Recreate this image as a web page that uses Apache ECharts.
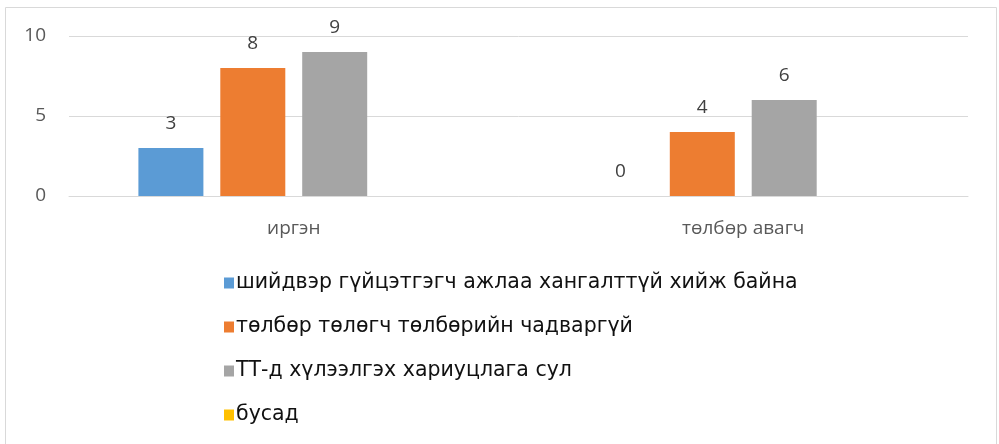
<!DOCTYPE html>
<html><head><meta charset="utf-8">
<script src="https://cdn.jsdelivr.net/npm/echarts@6/dist/echarts.min.js"></script>
<style>html,body{margin:0;padding:0;background:#fff}#c{width:999px;height:444px}</style>
</head><body><div id="c"></div>
<script>
const categories = ['иргэн', 'төлбөр авагч'];
const seriesNames = ['шийдвэр гүйцэтгэгч ажлаа хангалттүй хийж байна', 'төлбөр төлөгч төлбөрийн чадваргүй', 'ТТ-д хүлээлгэх хариуцлага сул', 'бусад'];
const s1 = [3, 0];
const s2 = [8, 4];
const s3 = [9, 6];
const s4 = [null, null];
const colors = ['#5b9bd5', '#ed7d31', '#a5a5a5', '#ffc000'];
const yTicks = [0, 5, 10];

const chart = echarts.init(document.getElementById('c'), null, {renderer: 'canvas'});
const data = [s1, s2, s3, s4];
chart.setOption({
  animation: false,
  color: colors,
  graphic: [{type: 'rect', shape: {x: 5.5, y: 7.5, width: 991, height: 445}, style: {fill: 'none', stroke: '#d9d9d9', lineWidth: 1}}],
  grid: {left: 69, right: 31, top: 36, bottom: 248, containLabel: false},
  xAxis: {
    type: 'category', data: categories,
    axisLine: {lineStyle: {color: '#d9d9d9', width: 1}},
    axisTick: {show: false},
    axisLabel: {color: '#595959', fontSize: 19, fontFamily: 'Open Sans', margin: 23}
  },
  yAxis: {
    type: 'value', min: yTicks[0], max: yTicks[yTicks.length - 1], interval: 5,
    axisLine: {show: false}, axisTick: {show: false},
    splitLine: {lineStyle: {color: '#d9d9d9', width: 1}},
    axisLabel: {color: '#595959', fontSize: 19, fontFamily: 'Open Sans', margin: 23}
  },
  legend: {
    orient: 'vertical', left: 224, top: 271, padding: 0,
    itemWidth: 10, itemHeight: 11, itemGap: 20,
    icon: 'rect',
    textStyle: {color: '#111111', fontSize: 20.5, fontFamily: 'DejaVu Sans', padding: [0, 0, 0, -3], lineHeight: 24},
    data: seriesNames
  },
  series: seriesNames.map((n, i) => ({
    name: n, type: 'bar', data: data[i],
    barWidth: 65, barGap: '26%',
    label: {show: true, position: 'top', color: '#404040', fontSize: 19, fontFamily: 'Open Sans', distance: 15}
  }))
});
</script></body></html>
